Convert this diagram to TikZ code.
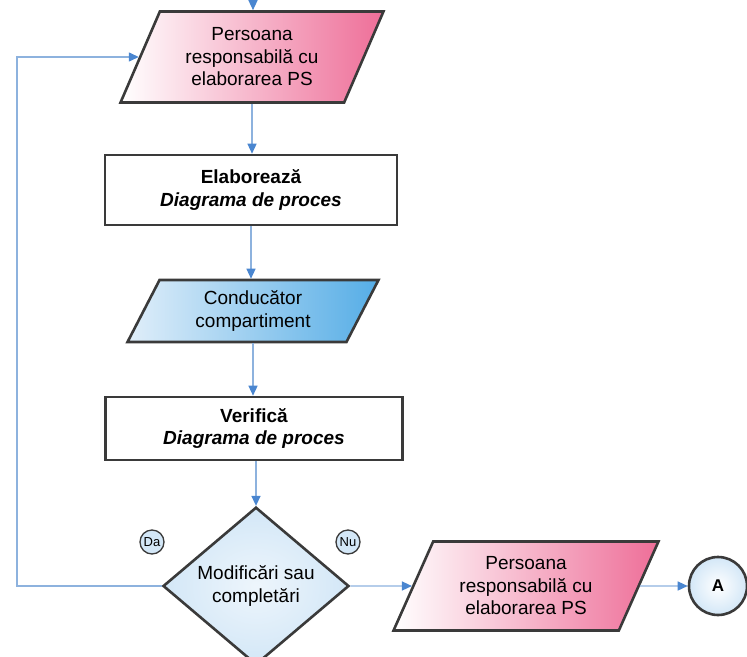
\documentclass[tikz,border=0pt]{standalone}
\usepackage{fontspec}
\setmainfont{Liberation Sans}
\usepackage{tikz}
\usetikzlibrary{shapes.geometric}
\usetikzlibrary{arrows.meta}
\definecolor{edgegray}{HTML}{3A3A3A}
\definecolor{pinkfill}{HTML}{EE6E98}
\definecolor{bluefill}{HTML}{55ADE6}
\definecolor{palefill}{HTML}{D3E7F7}
\definecolor{linkline}{HTML}{8DB2DE}
\definecolor{linktip}{HTML}{4A86D0}
\tikzset{
  txt/.style={align=center, font=\fontsize{19}{22.5}\selectfont},
  actor/.style={txt, trapezium, trapezium left angle=64, trapezium right angle=116,
    trapezium stretches=true, draw=edgegray, line width=2.6pt, inner sep=0pt},
  pinkactor/.style={actor, left color=white, right color=pinkfill},
  blueactor/.style={actor, left color=palefill!70!white, right color=bluefill},
  task/.style={txt, rectangle, draw=edgegray, line width=2.6pt, fill=white, inner sep=0pt},
  choice/.style={txt, diamond, draw=edgegray, line width=2.6pt, inner sep=0pt,
    inner color=palefill!40!white, outer color=palefill},
  answer/.style={circle, draw=edgegray, line width=1.3pt, fill=palefill, inner sep=0pt,
    minimum size=24pt, font=\fontsize{13}{15}\selectfont},
  jump/.style={circle, draw=edgegray, line width=2.6pt, inner sep=0pt, minimum size=58pt,
    inner color=white, outer color=palefill, font=\bfseries\fontsize{17}{19}\selectfont},
  link/.style={draw=linkline, line width=1.4pt, -{Triangle[length=10pt,width=9pt,color=linktip]}}
}

\begin{document}
\begin{tikzpicture}[x=1pt, y=-1pt]
  \useasboundingbox (0,0) rectangle (747,656);
  % column
  \coordinate (in) at (253,0);
  \node[pinkactor, minimum width=263pt, minimum height=91pt] (pers1) at (252,57)
    {Persoana\\responsabilă cu\\elaborarea PS};
  \node[task, minimum width=292pt, minimum height=70pt] (elab) at (251,190)
    {\textbf{Elaborează}\\\textbf{\itshape Diagrama de proces}};
  \node[blueactor, minimum width=251pt, minimum height=62pt] (cond) at (253,311)
    {Conducător\\compartiment};
  \node[task, minimum width=297pt, minimum height=63pt] (verif) at (254,428.5)
    {\textbf{Verifică}\\\textbf{\itshape Diagrama de proces}};
  \node[choice, minimum width=186pt, minimum height=144pt] (dec) at (256,586)
    {Modificări sau\\completări};
  % answers
  \node[answer] (da) at (152,542) {Da};
  \node[answer] (nu) at (348,542) {Nu};
  % right branch
  \node[pinkactor, minimum width=265pt, minimum height=89pt] (pers2) at (526,586)
    {Persoana\\responsabilă cu\\elaborarea PS};
  \node[jump] (conA) at (718,586) {A};
  % links
  \coordinate (back) at (17,586);
  \draw[link] (in) -- (in |- pers1.north);
  \draw[link] (pers1.south) -- (pers1.south |- elab.north);
  \draw[link] (elab.south) -- (elab.south |- cond.north);
  \draw[link] (cond.south) -- (cond.south |- verif.north);
  \draw[link] (dec.north |- verif.south) -- (dec.north);
  \draw[link] (dec.west) -- (back) |- (pers1.west);
  \draw[link] (dec.east) -- (pers2.west);
  \draw[link] (pers2.east) -- (conA.west);
\end{tikzpicture}
\end{document}
